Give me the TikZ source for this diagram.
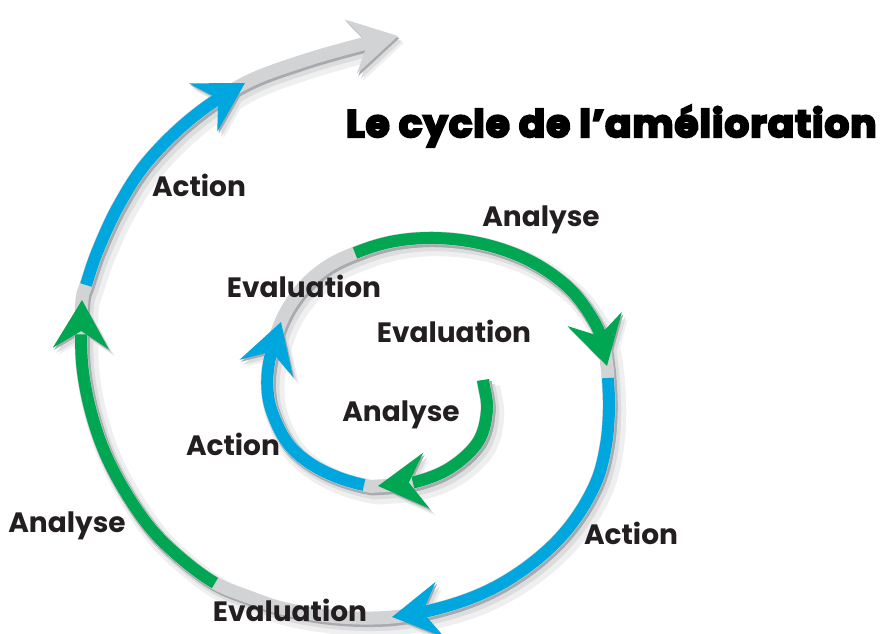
\documentclass[tikz,border=0pt]{standalone}
\usepackage{fontspec}
\usepackage{graphicx}
\usetikzlibrary{arrows.meta,bending,calc}
\newfontfamily\labfont{Poppins}
\newfontfamily\titlefont{Poppins}[LetterSpace=3]
\definecolor{sgreen}{RGB}{0,166,81}
\definecolor{sblue}{RGB}{0,166,222}
\definecolor{sgray}{RGB}{209,211,213}
\definecolor{sgrayd}{RGB}{168,170,173}
\definecolor{shadA}{RGB}{239,239,240}
\definecolor{shadB}{RGB}{220,221,223}
\definecolor{txt}{RGB}{35,31,32}
\tikzset{
  tube/.style={line width=12pt},
  tipA/.style={-{Stealth[length=48pt,width=55pt,inset=17pt]}},
  lab/.style={font=\labfont\bfseries\fontsize{28}{30}\selectfont, text=txt, anchor=base, inner sep=0pt},
  ttl/.style={font=\titlefont\bfseries\fontsize{38}{40}\selectfont, text=black, anchor=base west, inner sep=0pt},
}
% Catmull-Rom spiral through named points p#1 ... p(#2+1)
\newcommand\spiral[2]{(p#1) foreach \i [evaluate=\i as \h using {int(\i-1)}, evaluate=\i as \j using {int(\i+1)}, evaluate=\i as \k using {int(\i+2)}] in {#1,...,#2} { .. controls ($(p\i)+0.16667*(p\j)-0.16667*(p\h)$) and ($(p\j)-0.16667*(p\k)+0.16667*(p\i)$) .. (p\j) }}
\newcommand\stages{1/5,7/13,17/25,27/35,40/47,49/53}
\begin{document}
\begin{tikzpicture}[x=1pt,y=-1pt]
\fill[white] (0,0) rectangle (881,634);
\useasboundingbox (0,0) rectangle (881,634);
\foreach \n/\x/\y in {0/479/350,1/483/380,2/487/410,3/478/442,4/450/468,5/415/482,6/378/486,
  7/364/485,8/337/477,9/311/464,10/290/446,11/276/422,12/268/395,13/269/363,14/281/322,15/300/291,
  16/325/268,17/355/253,18/390/242,19/428/238,20/468/241,21/507/251,22/541/267,23/571/290,24/592/318,
  25/603/342,26/607/366,27/608/378,28/609/410,29/606/445,30/597/480,31/578/515,32/553/545,33/520/572,
  34/483/593,35/440/608,36/392/617,37/340/617,38/286/609,39/249/597,40/215/583,41/182/559,42/152/530,
  43/126/493,44/105/453,45/91/412,46/83/372,47/81/336,48/82/300,49/86/285,50/98/250,51/119/205,
  52/148/161,53/193/117,54/245/83,55/300/62,56/355/46,57/398/36,58/441/26}
  {\coordinate (p\n) at (\x,\y);}
% soft shadows
\begin{scope}[transform canvas={shift={(6,7)}}]
  \draw[line width=22pt, shadA, tipA] \spiral{1}{56};
  \foreach \a/\b in \stages \draw[line width=22pt, shadA, tipA] \spiral{\a}{\b};
\end{scope}
\begin{scope}[transform canvas={shift={(4,5)}}]
  \draw[line width=16pt, shadB, tipA] \spiral{1}{56};
  \foreach \a/\b in \stages \draw[line width=16pt, shadB, tipA] \spiral{\a}{\b};
\end{scope}
\begin{scope}[transform canvas={shift={(1.5,2)}}]
  \draw[line width=14pt, sgrayd, tipA] \spiral{1}{56};
  \foreach \a/\b in \stages \draw[line width=14pt, sgrayd, tipA] \spiral{\a}{\b};
\end{scope}
% grey base
\draw[line width=13pt, sgray, tipA] \spiral{1}{56};
% coloured stages
\foreach \a/\b/\c in {1/5/sgreen,7/13/sblue,17/25/sgreen,27/35/sblue,40/47/sgreen,49/53/sblue}
  \draw[tube, tipA, \c] \spiral{\a}{\b};
% labels
\node[ttl] (title) at (346,137) {\special{pdf:literal direct 2 Tr 2.2 w}\scalebox{1.015}[1]{Le cycle de l’amélioration}\special{pdf:literal direct 0 Tr}};
\node[lab] (act1) at (199,196) {Action};
\node[lab] (ana1) at (541,226) {Analyse};
\node[lab] (eva1) at (304,297) {Evaluation};
\node[lab] (eva2) at (454,342) {Evaluation};
\node[lab] (ana2) at (401,421) {Analyse};
\node[lab] (act2) at (233,455) {Action};
\node[lab] (act3) at (631,544) {Action};
\node[lab] (ana3) at (67,532) {Analyse};
\node[lab] (eva3) at (290,621) {Evaluation};
\end{tikzpicture}
\end{document}
